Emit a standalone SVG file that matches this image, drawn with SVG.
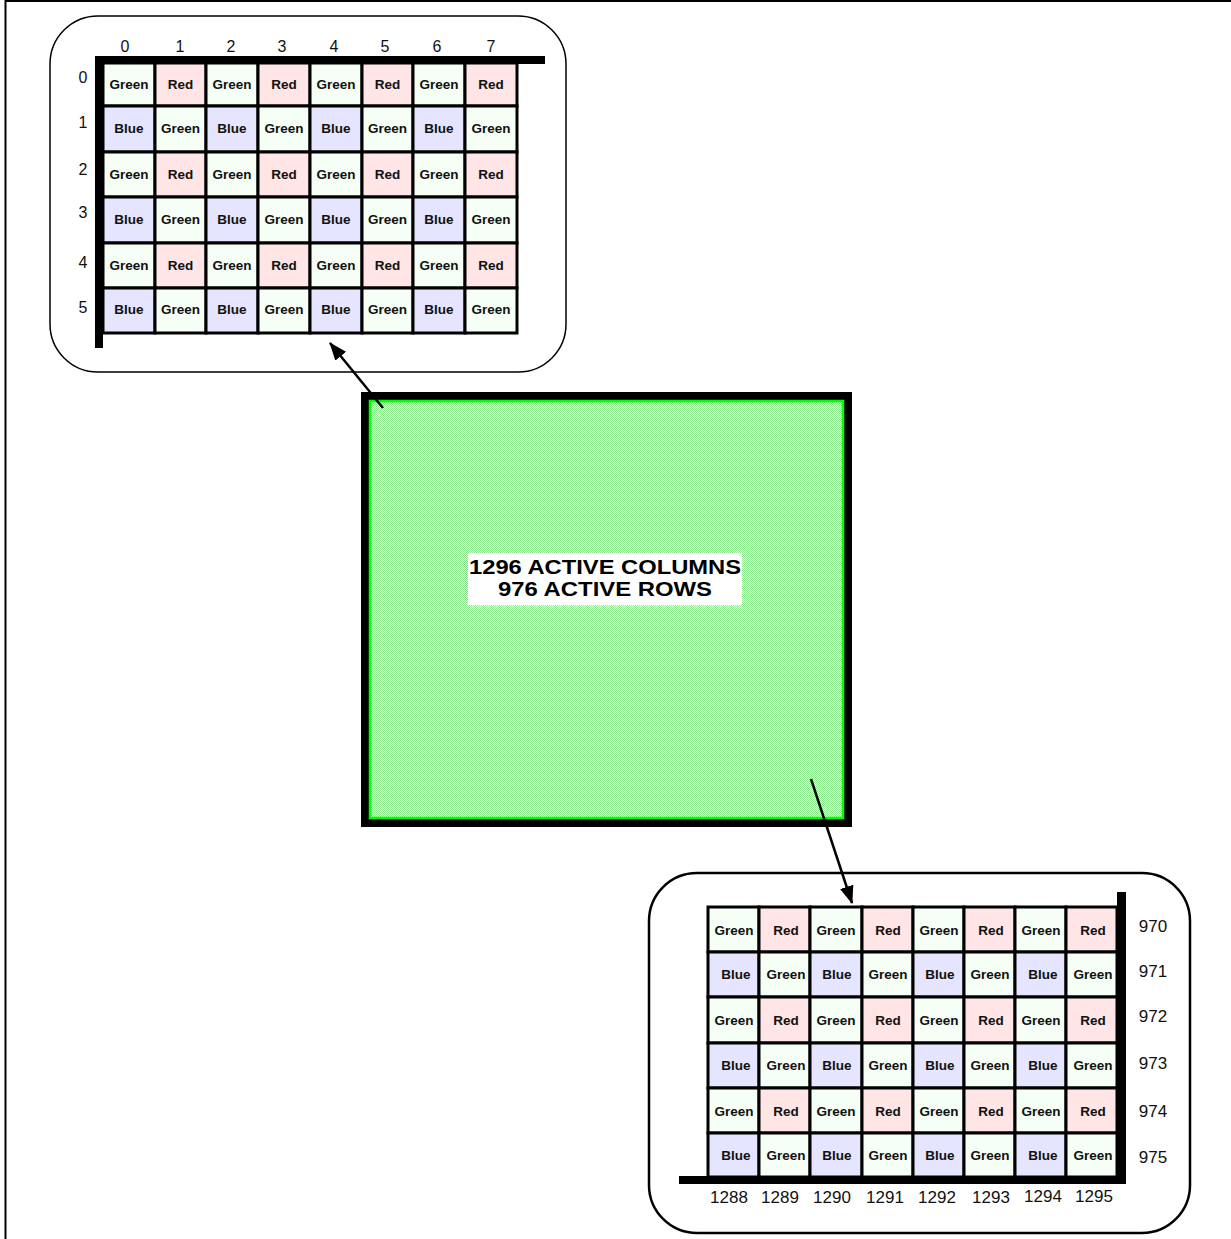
<svg xmlns="http://www.w3.org/2000/svg" width="1231" height="1239" viewBox="0 0 1231 1239">
<style>
.g{fill:#F6FFF6;stroke:#000;stroke-width:3}
.r{fill:#FFE5E5;stroke:#000;stroke-width:3}
.b{fill:#E5E5FF;stroke:#000;stroke-width:3}
.ct{font-family:"Liberation Sans",Arial,sans-serif;font-weight:bold;font-size:13.5px;text-anchor:middle;fill:#111}
.lb{font-family:"Liberation Sans",Arial,sans-serif;font-size:16px;text-anchor:middle;fill:#111}
.lb2{font-family:"Liberation Sans",Arial,sans-serif;font-size:17px;text-anchor:middle;fill:#111}
.bar{fill:#000}
.bubble{fill:#fff;stroke:#000}
.conn{stroke:#000;stroke-width:2.5;fill:none}
</style>
<defs>
<pattern id="hatch" patternUnits="userSpaceOnUse" width="2" height="2">
<rect width="2" height="2" fill="#ffffff"/>
<rect x="0" y="0" width="1" height="1" fill="#8CEB8C"/>
<rect x="1" y="1" width="1" height="1" fill="#8CEB8C"/>
</pattern>
<marker id="arr" viewBox="0 0 18 14" refX="17" refY="7" markerWidth="18" markerHeight="14" markerUnits="userSpaceOnUse" orient="auto">
<path d="M0,0 L18,7 L0,14 z" fill="#000"/>
</marker>
</defs>
<rect width="1231" height="1239" fill="#fff"/>
<g id="page-frame">
<line x1="5" y1="1" x2="1231" y2="1" stroke="#000" stroke-width="2"/>
<line x1="5.5" y1="0" x2="5.5" y2="1239" stroke="#000" stroke-width="2"/>
</g>

<g id="top-left-detail">
<rect class="bubble" x="50" y="16" width="516" height="356" rx="48" ry="48" stroke-width="1.5"/>
<g id="tl-cells">
<rect class="g" x="103" y="63" width="52" height="43"/><rect class="r" x="155" y="63" width="51" height="43"/><rect class="g" x="206" y="63" width="52" height="43"/><rect class="r" x="258" y="63" width="52" height="43"/><rect class="g" x="310" y="63" width="52" height="43"/><rect class="r" x="362" y="63" width="51" height="43"/><rect class="g" x="413" y="63" width="52" height="43"/><rect class="r" x="465" y="63" width="52" height="43"/>
<rect class="b" x="103" y="106" width="52" height="46"/><rect class="g" x="155" y="106" width="51" height="46"/><rect class="b" x="206" y="106" width="52" height="46"/><rect class="g" x="258" y="106" width="52" height="46"/><rect class="b" x="310" y="106" width="52" height="46"/><rect class="g" x="362" y="106" width="51" height="46"/><rect class="b" x="413" y="106" width="52" height="46"/><rect class="g" x="465" y="106" width="52" height="46"/>
<rect class="g" x="103" y="152" width="52" height="45"/><rect class="r" x="155" y="152" width="51" height="45"/><rect class="g" x="206" y="152" width="52" height="45"/><rect class="r" x="258" y="152" width="52" height="45"/><rect class="g" x="310" y="152" width="52" height="45"/><rect class="r" x="362" y="152" width="51" height="45"/><rect class="g" x="413" y="152" width="52" height="45"/><rect class="r" x="465" y="152" width="52" height="45"/>
<rect class="b" x="103" y="197" width="52" height="46"/><rect class="g" x="155" y="197" width="51" height="46"/><rect class="b" x="206" y="197" width="52" height="46"/><rect class="g" x="258" y="197" width="52" height="46"/><rect class="b" x="310" y="197" width="52" height="46"/><rect class="g" x="362" y="197" width="51" height="46"/><rect class="b" x="413" y="197" width="52" height="46"/><rect class="g" x="465" y="197" width="52" height="46"/>
<rect class="g" x="103" y="243" width="52" height="45"/><rect class="r" x="155" y="243" width="51" height="45"/><rect class="g" x="206" y="243" width="52" height="45"/><rect class="r" x="258" y="243" width="52" height="45"/><rect class="g" x="310" y="243" width="52" height="45"/><rect class="r" x="362" y="243" width="51" height="45"/><rect class="g" x="413" y="243" width="52" height="45"/><rect class="r" x="465" y="243" width="52" height="45"/>
<rect class="b" x="103" y="288" width="52" height="45"/><rect class="g" x="155" y="288" width="51" height="45"/><rect class="b" x="206" y="288" width="52" height="45"/><rect class="g" x="258" y="288" width="52" height="45"/><rect class="b" x="310" y="288" width="52" height="45"/><rect class="g" x="362" y="288" width="51" height="45"/><rect class="b" x="413" y="288" width="52" height="45"/><rect class="g" x="465" y="288" width="52" height="45"/>
</g>
<g id="tl-texts">
<text class="ct" x="129" y="89">Green</text><text class="ct" x="180.5" y="89">Red</text><text class="ct" x="232" y="89">Green</text><text class="ct" x="284" y="89">Red</text><text class="ct" x="336" y="89">Green</text><text class="ct" x="387.5" y="89">Red</text><text class="ct" x="439" y="89">Green</text><text class="ct" x="491" y="89">Red</text>
<text class="ct" x="129" y="133">Blue</text><text class="ct" x="180.5" y="133">Green</text><text class="ct" x="232" y="133">Blue</text><text class="ct" x="284" y="133">Green</text><text class="ct" x="336" y="133">Blue</text><text class="ct" x="387.5" y="133">Green</text><text class="ct" x="439" y="133">Blue</text><text class="ct" x="491" y="133">Green</text>
<text class="ct" x="129" y="179">Green</text><text class="ct" x="180.5" y="179">Red</text><text class="ct" x="232" y="179">Green</text><text class="ct" x="284" y="179">Red</text><text class="ct" x="336" y="179">Green</text><text class="ct" x="387.5" y="179">Red</text><text class="ct" x="439" y="179">Green</text><text class="ct" x="491" y="179">Red</text>
<text class="ct" x="129" y="224">Blue</text><text class="ct" x="180.5" y="224">Green</text><text class="ct" x="232" y="224">Blue</text><text class="ct" x="284" y="224">Green</text><text class="ct" x="336" y="224">Blue</text><text class="ct" x="387.5" y="224">Green</text><text class="ct" x="439" y="224">Blue</text><text class="ct" x="491" y="224">Green</text>
<text class="ct" x="129" y="270">Green</text><text class="ct" x="180.5" y="270">Red</text><text class="ct" x="232" y="270">Green</text><text class="ct" x="284" y="270">Red</text><text class="ct" x="336" y="270">Green</text><text class="ct" x="387.5" y="270">Red</text><text class="ct" x="439" y="270">Green</text><text class="ct" x="491" y="270">Red</text>
<text class="ct" x="129" y="314">Blue</text><text class="ct" x="180.5" y="314">Green</text><text class="ct" x="232" y="314">Blue</text><text class="ct" x="284" y="314">Green</text><text class="ct" x="336" y="314">Blue</text><text class="ct" x="387.5" y="314">Green</text><text class="ct" x="439" y="314">Blue</text><text class="ct" x="491" y="314">Green</text>
</g>
<rect class="bar" x="95" y="56" width="450" height="8"/>
<rect class="bar" x="95" y="56" width="8" height="292"/>
<g id="tl-col-labels">
<text class="lb" x="125" y="52">0</text><text class="lb" x="180" y="52">1</text><text class="lb" x="231" y="52">2</text><text class="lb" x="282" y="52">3</text><text class="lb" x="334" y="52">4</text><text class="lb" x="385" y="52">5</text><text class="lb" x="437" y="52">6</text><text class="lb" x="491" y="52">7</text>
</g>
<g id="tl-row-labels">
<text class="lb" x="83" y="83">0</text><text class="lb" x="83" y="128">1</text><text class="lb" x="83" y="175">2</text><text class="lb" x="83" y="218">3</text><text class="lb" x="83" y="268">4</text><text class="lb" x="83" y="313">5</text>
</g>
</g>

<g id="active-array">
<rect x="365" y="396" width="483" height="427" fill="#000" stroke="#000" stroke-width="8"/>
<rect x="370" y="401" width="473" height="417" fill="url(#hatch)" stroke="#00FF00" stroke-width="2.5"/>
<rect x="468" y="553" width="274" height="52" fill="#fff"/>
<text x="605" y="574" font-family="Liberation Sans, Arial, sans-serif" font-weight="bold" font-size="21" text-anchor="middle" textLength="272" lengthAdjust="spacingAndGlyphs">1296 ACTIVE COLUMNS</text>
<text x="605" y="596" font-family="Liberation Sans, Arial, sans-serif" font-weight="bold" font-size="21" text-anchor="middle" textLength="214" lengthAdjust="spacingAndGlyphs">976 ACTIVE ROWS</text>
</g>

<g id="bottom-right-detail">
<rect class="bubble" x="649" y="873" width="541" height="360" rx="48" ry="48" stroke-width="2.5"/>
<g id="br-cells">
<rect class="g" x="708" y="907" width="51" height="45"/><rect class="r" x="759" y="907" width="51" height="45"/><rect class="g" x="810" y="907" width="52" height="45"/><rect class="r" x="862" y="907" width="51" height="45"/><rect class="g" x="913" y="907" width="51" height="45"/><rect class="r" x="964" y="907" width="51" height="45"/><rect class="g" x="1015" y="907" width="51" height="45"/><rect class="r" x="1066" y="907" width="51" height="45"/>
<rect class="b" x="708" y="952" width="51" height="45"/><rect class="g" x="759" y="952" width="51" height="45"/><rect class="b" x="810" y="952" width="52" height="45"/><rect class="g" x="862" y="952" width="51" height="45"/><rect class="b" x="913" y="952" width="51" height="45"/><rect class="g" x="964" y="952" width="51" height="45"/><rect class="b" x="1015" y="952" width="51" height="45"/><rect class="g" x="1066" y="952" width="51" height="45"/>
<rect class="g" x="708" y="997" width="51" height="46"/><rect class="r" x="759" y="997" width="51" height="46"/><rect class="g" x="810" y="997" width="52" height="46"/><rect class="r" x="862" y="997" width="51" height="46"/><rect class="g" x="913" y="997" width="51" height="46"/><rect class="r" x="964" y="997" width="51" height="46"/><rect class="g" x="1015" y="997" width="51" height="46"/><rect class="r" x="1066" y="997" width="51" height="46"/>
<rect class="b" x="708" y="1043" width="51" height="45"/><rect class="g" x="759" y="1043" width="51" height="45"/><rect class="b" x="810" y="1043" width="52" height="45"/><rect class="g" x="862" y="1043" width="51" height="45"/><rect class="b" x="913" y="1043" width="51" height="45"/><rect class="g" x="964" y="1043" width="51" height="45"/><rect class="b" x="1015" y="1043" width="51" height="45"/><rect class="g" x="1066" y="1043" width="51" height="45"/>
<rect class="g" x="708" y="1088" width="51" height="45"/><rect class="r" x="759" y="1088" width="51" height="45"/><rect class="g" x="810" y="1088" width="52" height="45"/><rect class="r" x="862" y="1088" width="51" height="45"/><rect class="g" x="913" y="1088" width="51" height="45"/><rect class="r" x="964" y="1088" width="51" height="45"/><rect class="g" x="1015" y="1088" width="51" height="45"/><rect class="r" x="1066" y="1088" width="51" height="45"/>
<rect class="b" x="708" y="1133" width="51" height="44"/><rect class="g" x="759" y="1133" width="51" height="44"/><rect class="b" x="810" y="1133" width="52" height="44"/><rect class="g" x="862" y="1133" width="51" height="44"/><rect class="b" x="913" y="1133" width="51" height="44"/><rect class="g" x="964" y="1133" width="51" height="44"/><rect class="b" x="1015" y="1133" width="51" height="44"/><rect class="g" x="1066" y="1133" width="51" height="44"/>
</g>
<g id="br-texts">
<text class="ct" x="734" y="935">Green</text><text class="ct" x="786" y="935">Red</text><text class="ct" x="836" y="935">Green</text><text class="ct" x="888" y="935">Red</text><text class="ct" x="939" y="935">Green</text><text class="ct" x="991" y="935">Red</text><text class="ct" x="1041" y="935">Green</text><text class="ct" x="1093" y="935">Red</text>
<text class="ct" x="736" y="979">Blue</text><text class="ct" x="786" y="979">Green</text><text class="ct" x="837" y="979">Blue</text><text class="ct" x="888" y="979">Green</text><text class="ct" x="940" y="979">Blue</text><text class="ct" x="990" y="979">Green</text><text class="ct" x="1043" y="979">Blue</text><text class="ct" x="1093" y="979">Green</text>
<text class="ct" x="734" y="1025">Green</text><text class="ct" x="786" y="1025">Red</text><text class="ct" x="836" y="1025">Green</text><text class="ct" x="888" y="1025">Red</text><text class="ct" x="939" y="1025">Green</text><text class="ct" x="991" y="1025">Red</text><text class="ct" x="1041" y="1025">Green</text><text class="ct" x="1093" y="1025">Red</text>
<text class="ct" x="736" y="1070">Blue</text><text class="ct" x="786" y="1070">Green</text><text class="ct" x="837" y="1070">Blue</text><text class="ct" x="888" y="1070">Green</text><text class="ct" x="940" y="1070">Blue</text><text class="ct" x="990" y="1070">Green</text><text class="ct" x="1043" y="1070">Blue</text><text class="ct" x="1093" y="1070">Green</text>
<text class="ct" x="734" y="1116">Green</text><text class="ct" x="786" y="1116">Red</text><text class="ct" x="836" y="1116">Green</text><text class="ct" x="888" y="1116">Red</text><text class="ct" x="939" y="1116">Green</text><text class="ct" x="991" y="1116">Red</text><text class="ct" x="1041" y="1116">Green</text><text class="ct" x="1093" y="1116">Red</text>
<text class="ct" x="736" y="1160">Blue</text><text class="ct" x="786" y="1160">Green</text><text class="ct" x="837" y="1160">Blue</text><text class="ct" x="888" y="1160">Green</text><text class="ct" x="940" y="1160">Blue</text><text class="ct" x="990" y="1160">Green</text><text class="ct" x="1043" y="1160">Blue</text><text class="ct" x="1093" y="1160">Green</text>
</g>
<rect class="bar" x="1117" y="892" width="9" height="292"/>
<rect class="bar" x="679" y="1176" width="447" height="8"/>
<g id="br-row-labels">
<text class="lb2" x="1153" y="932">970</text><text class="lb2" x="1153" y="977">971</text><text class="lb2" x="1153" y="1022">972</text><text class="lb2" x="1153" y="1069">973</text><text class="lb2" x="1153" y="1117">974</text><text class="lb2" x="1153" y="1163">975</text>
</g>
<g id="br-col-labels">
<text class="lb2" x="729" y="1203">1288</text><text class="lb2" x="780" y="1203">1289</text><text class="lb2" x="832" y="1203">1290</text><text class="lb2" x="885" y="1203">1291</text><text class="lb2" x="937" y="1203">1292</text><text class="lb2" x="991" y="1203">1293</text><text class="lb2" x="1043" y="1202">1294</text><text class="lb2" x="1094" y="1202">1295</text>
</g>
</g>

<g id="connectors">
<line class="conn" x1="383" y1="408" x2="330" y2="343" marker-end="url(#arr)"/>
<line class="conn" x1="811" y1="779" x2="852" y2="903" marker-end="url(#arr)"/>
</g>
</svg>
